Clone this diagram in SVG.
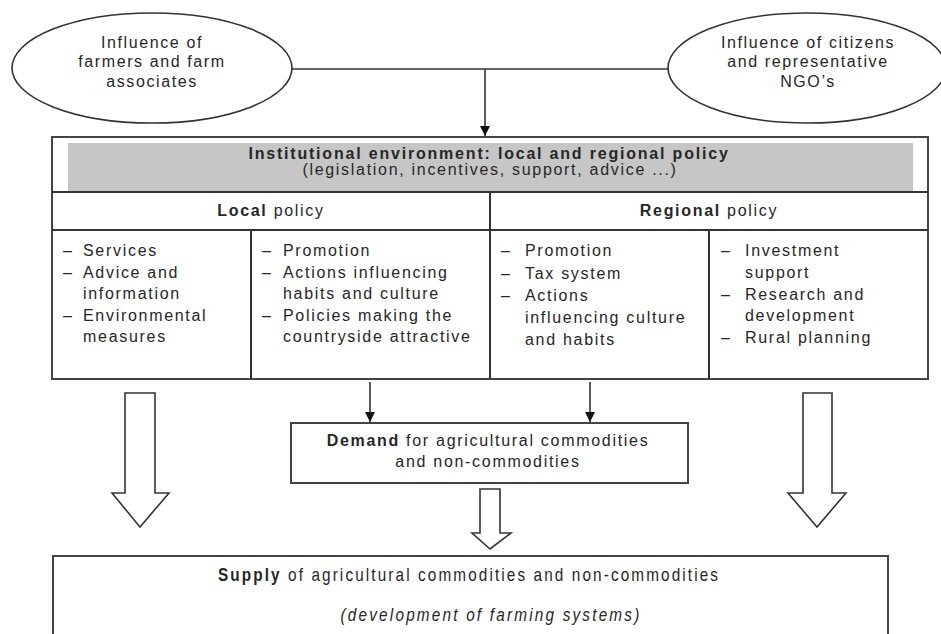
<svg xmlns="http://www.w3.org/2000/svg" width="941" height="634" viewBox="0 0 941 634">
<style>
text{font-family:"Liberation Sans",Arial,sans-serif;fill:#262626;font-size:16px;letter-spacing:1.7px}
.c{text-anchor:middle}
.b{font-weight:bold}
.sh{fill:#fff;stroke:#333;stroke-width:1.6}
.ln{fill:none;stroke:#333;stroke-width:1.6}
.bx{fill:#fff;stroke:#444;stroke-width:2}
</style>
<defs>
<marker id="ah" markerWidth="12" markerHeight="12" refX="10" refY="5" orient="auto" markerUnits="userSpaceOnUse">
<path d="M0,0 L10,5 L0,10 z" fill="#111"/>
</marker>
</defs>
<rect width="941" height="634" fill="#fff"/>

<g id="farmers">
<ellipse class="sh" cx="152" cy="68" rx="140" ry="55"/>
<text class="c" x="152" y="48" style="letter-spacing:1.6px">Influence of</text>
<text class="c" x="152" y="67" style="letter-spacing:1.6px">farmers and farm</text>
<text class="c" x="152" y="87" style="letter-spacing:1.6px">associates</text>
</g>

<g id="citizens">
<ellipse class="sh" cx="807" cy="68" rx="139" ry="55"/>
<text class="c" x="808" y="48" style="letter-spacing:1.6px">Influence of citizens</text>
<text class="c" x="808" y="67" style="letter-spacing:1.6px">and representative</text>
<text class="c" x="808" y="87" style="letter-spacing:1.6px">NGO’s</text>
</g>

<g id="institutional">
<rect class="bx" x="52" y="137" width="876" height="242"/>
<rect x="68" y="143" width="845" height="49" fill="#c6c6c6"/>
<line class="ln" x1="52" y1="192" x2="928" y2="192" style="stroke-width:2"/>
<line class="ln" x1="52" y1="230" x2="928" y2="230" style="stroke-width:2"/>
<line class="ln" x1="490" y1="192" x2="490" y2="379" style="stroke-width:2"/>
<line class="ln" x1="251" y1="230" x2="251" y2="379" style="stroke-width:2"/>
<line class="ln" x1="709" y1="230" x2="709" y2="379" style="stroke-width:2"/>
<text class="c b" x="489" y="159" style="letter-spacing:1.8px">Institutional environment: local and regional policy</text>
<text class="c" x="490" y="175">(legislation, incentives, support, advice ...)</text>
<text class="c" x="271" y="216"><tspan class="b">Local</tspan> policy</text>
<text class="c" x="709" y="216"><tspan class="b">Regional</tspan> policy</text>
</g>

<g id="local-col1">
<text x="63" y="256">–</text><text x="83" y="256">Services</text>
<text x="63" y="278">–</text><text x="83" y="278">Advice and</text>
<text x="83" y="299">information</text>
<text x="63" y="321">–</text><text x="83" y="321">Environmental</text>
<text x="83" y="342">measures</text>
</g>

<g id="local-col2">
<text x="262" y="256">–</text><text x="283" y="256">Promotion</text>
<text x="262" y="278">–</text><text x="283" y="278">Actions influencing</text>
<text x="283" y="299">habits and culture</text>
<text x="262" y="321">–</text><text x="283" y="321">Policies making the</text>
<text x="283" y="342">countryside attractive</text>
</g>

<g id="regional-col1">
<text x="501" y="256">–</text><text x="525" y="256">Promotion</text>
<text x="501" y="279">–</text><text x="525" y="279">Tax system</text>
<text x="501" y="301">–</text><text x="525" y="301">Actions</text>
<text x="525" y="323">influencing culture</text>
<text x="525" y="345">and habits</text>
</g>

<g id="regional-col2">
<text x="721" y="256">–</text><text x="745" y="256">Investment</text>
<text x="745" y="278">support</text>
<text x="721" y="300">–</text><text x="745" y="300">Research and</text>
<text x="745" y="321">development</text>
<text x="721" y="343">–</text><text x="745" y="343">Rural planning</text>
</g>

<g id="demand">
<rect class="bx" x="291" y="423" width="397" height="60"/>
<text class="c" x="488" y="446"><tspan class="b">Demand</tspan> for agricultural commodities</text>
<text class="c" x="488" y="467">and non-commodities</text>
</g>

<g id="supply">
<rect class="bx" x="53" y="556" width="835" height="90"/>
<text class="c" transform="translate(469,581) scale(0.85,1)" style="font-size:18px;letter-spacing:2.5px"><tspan class="b">Supply</tspan> of agricultural commodities and non-commodities</text>
<text class="c" transform="translate(491,621) scale(0.85,1)" style="font-size:18px;letter-spacing:2.6px;font-style:italic">(development of farming systems)</text>
</g>

<g id="connectors">
<line class="ln" x1="292" y1="69" x2="668" y2="69"/>
<line class="ln" x1="485" y1="69" x2="485" y2="136" marker-end="url(#ah)"/>
<line class="ln" x1="370" y1="382" x2="370" y2="422" marker-end="url(#ah)"/>
<line class="ln" x1="590" y1="382" x2="590" y2="422" marker-end="url(#ah)"/>
<polygon class="sh" points="125,393 155,393 155,493 169,493 140,527 112,493 125,493"/>
<polygon class="sh" points="803,393 832,393 832,493 846,493 817,527 788,493 803,493"/>
<polygon class="sh" points="480,489 500,489 500,533 511,533 490,549 472,533 480,533"/>
</g>
</svg>
